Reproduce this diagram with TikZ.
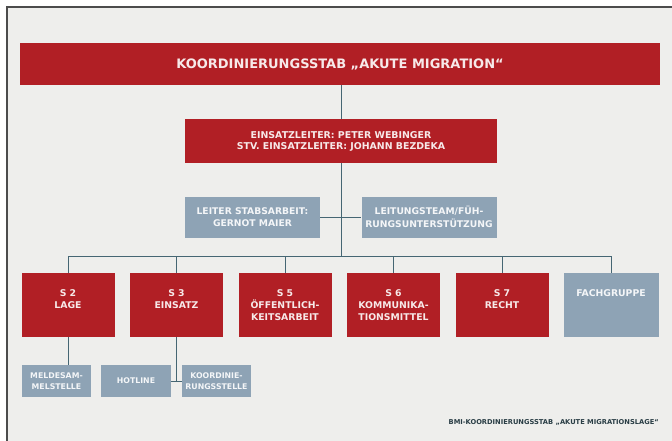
\documentclass[tikz,border=0pt]{standalone}
\usepackage{fontspec}
\setmainfont{DejaVu Sans}
\usepackage{tikz}
\definecolor{stabred}{HTML}{B11F25}
\definecolor{stabgrey}{HTML}{8EA3B5}
\definecolor{stabline}{HTML}{456673}
\definecolor{stabback}{HTML}{EEEEEC}
\tikzstyle{redbox} = [rectangle, fill=stabred, text=white!90!stabred, font=\bfseries\fontsize{9.3}{12}\selectfont, align=center, inner sep=0pt, minimum width=93pt, minimum height=64pt]
\tikzstyle{greybox} = [rectangle, fill=stabgrey, text=white!90!stabgrey, font=\bfseries\fontsize{7.8}{10.5}\selectfont, align=center, inner sep=0pt]
\tikzstyle{bus} = [stabline, line width=0.9pt]

\begin{document}
\begin{tikzpicture}[x=1pt, y=-1pt]
            % Background and frame
            \useasboundingbox (0,0) rectangle (672,441);
            \fill[white] (0,0) rectangle (672,441);
            \fill[stabback] (7,7) rectangle (672,441);
            \draw[black!70, line width=1.5pt] (7,441) -- (7,7) -- (672,7);

            % Defining nodes
            \node[redbox, minimum width=640pt, minimum height=42pt, font=\bfseries\fontsize{13}{14}\selectfont] (Stab) at (340,64) {KOORDINIERUNGSSTAB „AKUTE MIGRATION“};
            \node[redbox, minimum width=312pt, minimum height=44pt, font=\bfseries\fontsize{9.4}{11}\selectfont] (Leitung) at (341,141) {EINSATZLEITER: PETER WEBINGER\\STV. EINSATZLEITER: JOHANN BEZDEKA};
            \node[greybox, minimum width=135pt, minimum height=41pt, font=\bfseries\fontsize{9.2}{12.5}\selectfont] (Stabsarbeit) at (252.5,217) {LEITER STABSARBEIT:\\GERNOT MAIER};
            \node[greybox, minimum width=135pt, minimum height=41pt, font=\bfseries\fontsize{9.2}{12.5}\selectfont] (Team) at (429,217) {LEITUNGSTEAM/FÜH-\\RUNGSUNTERSTÜTZUNG};

            \node[redbox] (S2) at (68,305) {S 2\\LAGE\\~};
            \node[redbox, right of=S2, node distance=108.5pt] (S3) {S 3\\EINSATZ\\~};
            \node[redbox, right of=S3, node distance=108.5pt] (S5) {S 5\\ÖFFENTLICH-\\KEITSARBEIT};
            \node[redbox, right of=S5, node distance=108.5pt] (S6) {S 6\\KOMMUNIKA-\\TIONSMITTEL};
            \node[redbox, right of=S6, node distance=108.5pt] (S7) {S 7\\RECHT\\~};
            \node[greybox, minimum width=95pt, minimum height=64pt, font=\bfseries\fontsize{9.3}{12}\selectfont, right of=S7, node distance=109pt] (Fach) {FACHGRUPPE\\~\\~};

            \node[greybox, minimum width=69pt, minimum height=32pt] (Melde) at (56.5,381) {MELDESAM-\\MELSTELLE};
            \node[greybox, minimum width=70pt, minimum height=32pt] (Hotline) at (136,381) {HOTLINE};
            \node[greybox, minimum width=69pt, minimum height=32pt] (Koord) at (216.5,381) {KOORDINIE-\\RUNGSSTELLE};

            \node[font=\bfseries\fontsize{6.7}{7}\selectfont, text=stabline!60!black, anchor=east, inner sep=0pt] (Quelle) at (659,422) {BMI-KOORDINIERUNGSSTAB „AKUTE MIGRATIONSLAGE“};

            % Drawing diagram
            \coordinate (Bus) at (341,256);
            \draw[bus] (Stab.south -| Bus) -- (Leitung.north -| Bus);
            \draw[bus] (Leitung.south -| Bus) -- (Bus);
            \draw[bus] (Stabsarbeit.east) -- (Team.west);
            \draw[bus] (S2.north) -- (S2.north |- Bus) -- (Fach.north |- Bus) -- (Fach.north);
            \foreach \n in {S3, S5, S6, S7}
                \draw[bus] (\n.north |- Bus) -- (\n.north);
            \draw[bus] (S2.south) -- (Melde.north -| S2.south);
            \draw[bus] (S3.south) -- (Hotline.east -| S3.south);
            \draw[bus] (Hotline.east) -- (Koord.west);
        \end{tikzpicture}
\end{document}
